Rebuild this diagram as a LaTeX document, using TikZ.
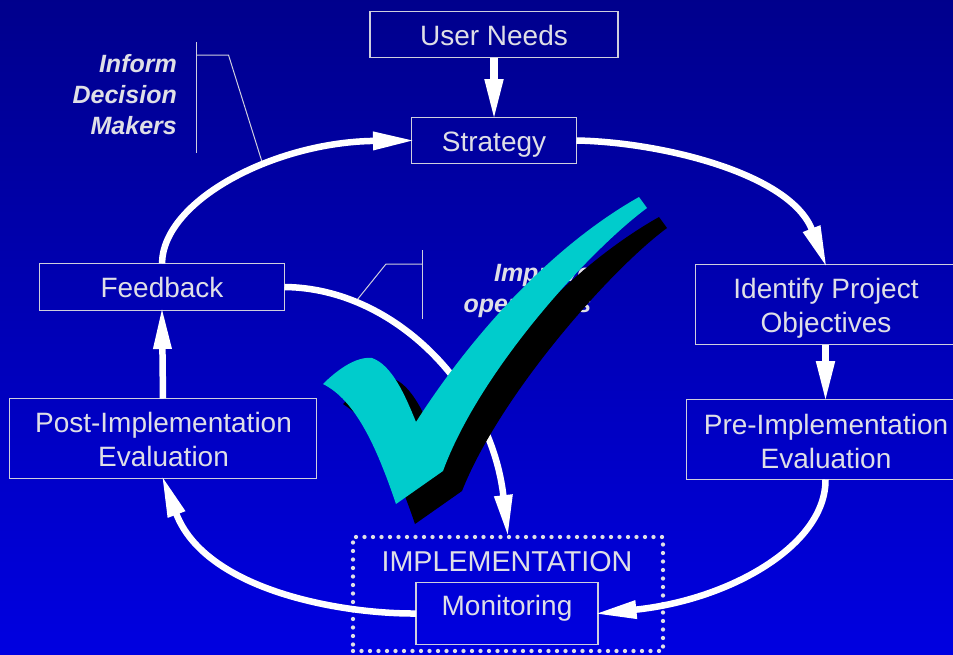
\documentclass[tikz,border=0pt]{standalone}
\usepackage{fontspec}
\setmainfont{Liberation Sans}
\usetikzlibrary{arrows.meta}
\definecolor{lbl}{HTML}{DFDFE6}
\definecolor{boxline}{HTML}{CFCFDD}
\definecolor{tickc}{HTML}{00CCCC}
\tikzset{
  stepbox/.style={draw=boxline,line width=1.2pt,outer sep=0pt,inner sep=0pt,align=center,text=lbl,
    font=\fontsize{28}{34}\selectfont},
  steptext/.style={inner sep=0pt,align=center,text=lbl,font=\fontsize{28}{34}\selectfont},
  flow/.style={draw=white,line width=6.5pt,-{Triangle[length=42pt,width=17pt]},shorten >=-3.5pt,fill=none},
  flowthick/.style={flow,line width=7.5pt},
  callout/.style={draw=boxline,line width=1pt},
  note/.style={align=right,text=lbl,inner sep=0pt,anchor=east,
    font=\fontsize{25}{31}\selectfont\bfseries\itshape},
  ticktop/.style={fill=tickc,draw=none},
  tickshadow/.style={fill=black,draw=none}
}
\begin{document}
\begin{tikzpicture}[x=1pt,y=-1pt]
\useasboundingbox (0,0) rectangle (953,654);
\clip (0,0) rectangle (953,654);
\fill[top color=blue!55!black,bottom color=blue!88!black] (0,0) rectangle (953,654);

\node[stepbox,minimum width=248pt,minimum height=46pt,text height=21pt,text depth=0pt] (needs) at (494,34.5) {User Needs};
\node[stepbox,minimum width=165pt,minimum height=46pt,text height=22pt,text depth=0pt] (strategy) at (494,140.5) {Strategy};
\node[stepbox,minimum width=260pt,minimum height=80pt] (identify) at (825.5,304.5) {};
\node[steptext] (identifytext) at (826,308.5) {Identify Project\\Objectives};
\node[stepbox,minimum width=278pt,minimum height=80pt] (pre) at (825.5,439.5) {};
\node[steptext] (pretext) at (826,441) {Pre-Implementation\\Evaluation};
\node[stepbox,minimum width=182pt,minimum height=62pt,text height=20pt,text depth=16pt] (monitoring) at (507,613.5) {Monitoring};
\node[stepbox,minimum width=307pt,minimum height=80pt] (post) at (163,438.5) {};
\node[steptext] (posttext) at (163.5,439.5) {Post-Implementation\\Evaluation};
\node[stepbox,minimum width=245pt,minimum height=47pt] (feedback) at (162,287) {Feedback};
\node[draw=lbl,line width=4.3pt,line cap=round,dash pattern=on 0pt off 8.5pt,
  minimum width=310pt,minimum height=114pt,outer sep=0pt] (impl) at (508,594) {};
\node[text=lbl,inner sep=0pt,font=\fontsize{28.7}{34}\selectfont] (impltext) at (507,562) {IMPLEMENTATION};

\node[note] (inform) at (177,94.5) {Inform\\Decision\\Makers};
\node[note] (improve) at (591.5,291) {Improve\\operations};

\coordinate (c1a) at (196,42);
\coordinate (c1b) at (196,153);
\coordinate (c1c) at (196,55);
\coordinate (c1d) at (228.5,55);
\coordinate (c1e) at (263,165);
\draw[callout] (c1a) -- (c1b);
\draw[callout] (c1c) -- (c1d) -- (c1e);
\coordinate (c2a) at (422,250);
\coordinate (c2b) at (422,319);
\coordinate (c2c) at (422,264);
\coordinate (c2d) at (386,264);
\coordinate (c2e) at (357,300);
\draw[callout] (c2a) -- (c2b);
\draw[callout] (c2c) -- (c2d) -- (c2e);

\draw[flowthick] (needs.south) -- (strategy.north);
\draw[flow] (strategy.east) .. controls (660,142) and (790,173) .. (identify.north);
\draw[flowthick] (identify.south) -- (pre.north);
\draw[flow] (pre.south) .. controls (826,545) and (730,600) .. (monitoring.east);
\draw[flow] (monitoring.west) .. controls (340,614) and (205,590) .. (post.south);
\draw[flow] (post.north) -- (feedback.south);
\draw[flow] (feedback.north) .. controls (163,200) and (275,142) .. (strategy.west);
\draw[flow,shorten >=0pt] (feedback.east) .. controls (395,288) and (491.5,389.5) .. (impl.north);

\fill[tickshadow] (659,217) -- (667,228)
  .. controls (610,270) and (500,395) .. (462,491)
  -- (415,524)
  .. controls (395,465) and (375,425) .. (343,404)
  .. controls (355,392) and (375,375) .. (392,378)
  .. controls (412,385) and (425,415) .. (436,442)
  .. controls (485,365) and (565,270) .. (659,217) -- cycle;
\fill[ticktop] (639,197) -- (647,208)
  .. controls (590,250) and (480,370) .. (443,471)
  -- (396,504)
  .. controls (376,445) and (355,400) .. (323,384)
  .. controls (335,372) and (355,356) .. (372,358)
  .. controls (392,365) and (405,395) .. (416,422)
  .. controls (465,345) and (545,250) .. (639,197) -- cycle;
\end{tikzpicture}
\end{document}
